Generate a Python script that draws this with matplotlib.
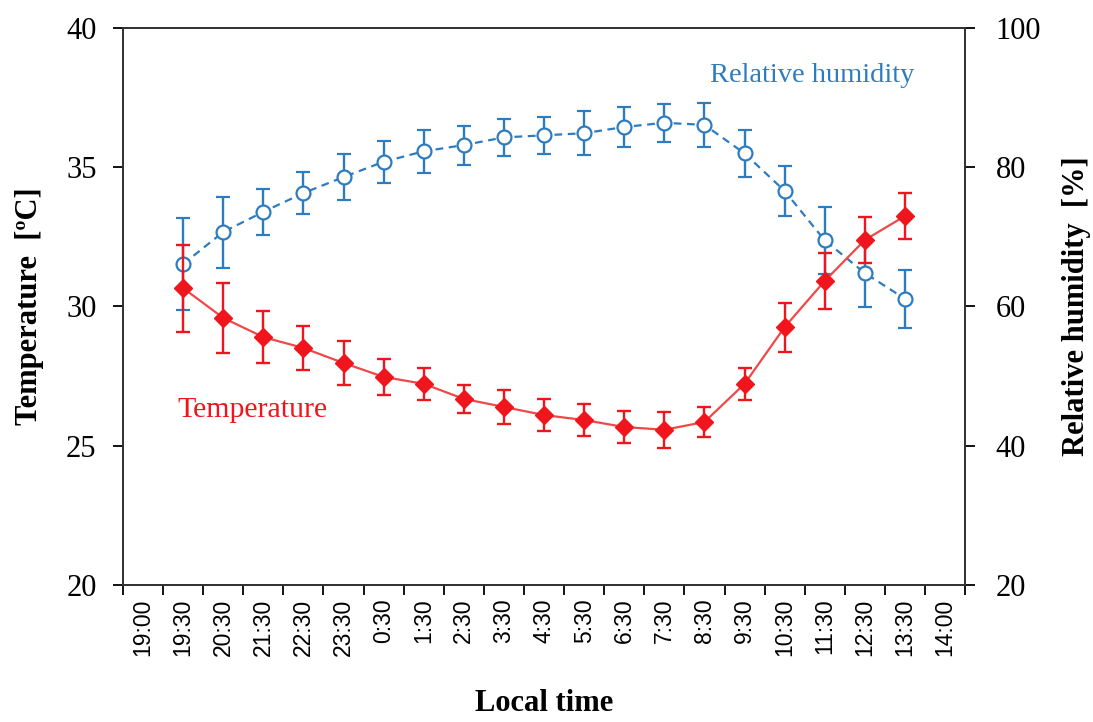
import matplotlib
matplotlib.use("Agg")
import matplotlib.pyplot as plt
import numpy as np

plt.rcParams['font.family'] = ['Liberation Serif', 'DejaVu Serif']

labels = ["19:00", "19:30", "20:30", "21:30", "22:30", "23:30", "0:30", "1:30", "2:30",
          "3:30", "4:30", "5:30", "6:30", "7:30", "8:30", "9:30", "10:30", "11:30",
          "12:30", "13:30", "14:00"]
data_labels = labels[1:-1]

temp = [30.66, 29.59, 28.90, 28.51, 27.97, 27.47, 27.22, 26.68, 26.39, 26.10,
        25.92, 25.67, 25.57, 25.85, 27.22, 29.26, 30.92, 32.39, 33.25]
temp_err = [1.56, 1.26, 0.92, 0.79, 0.80, 0.66, 0.58, 0.50, 0.62, 0.57,
            0.59, 0.59, 0.64, 0.54, 0.57, 0.88, 1.00, 0.83, 0.81]
rh = [66.1, 70.7, 73.6, 76.3, 78.6, 80.8, 82.3, 83.2, 84.3, 84.6,
      84.9, 85.8, 86.4, 86.1, 82.0, 76.6, 69.5, 64.8, 61.1]
rh_err = [6.6, 5.1, 3.3, 3.0, 3.3, 3.0, 3.1, 2.8, 2.7, 2.7,
          3.2, 2.9, 2.7, 3.2, 3.4, 3.6, 4.8, 4.9, 4.2]

red = '#f0141c'
blue = '#2e7cc0'

fig = plt.figure(figsize=(10.93, 7.22), dpi=100)
ax = fig.add_axes([0.1125, 0.190, 0.7705, 0.771])
ax2 = ax.twinx()

x_all = np.arange(len(labels))
x = np.array([labels.index(l) for l in data_labels])

ax2.errorbar(x, rh, yerr=rh_err, color=blue, ls=(0, (3.5, 2.5)), lw=1.6,
             marker='o', ms=10, mfc='white', mec=blue, mew=1.6,
             ecolor=blue, elinewidth=1.7, capsize=5, capthick=1.7, zorder=2)
ax.errorbar(x, temp, yerr=temp_err, color='#f04848', ls='-', lw=1.6,
            marker='D', ms=9.5, mfc=red, mec=red,
            ecolor=red, elinewidth=1.7, capsize=5, capthick=1.7, zorder=3)
ax.set_zorder(ax2.get_zorder() + 1)
ax.patch.set_visible(False)

ax.set_xlim(-0.5, len(labels) - 0.5)
ax.set_ylim(20, 40)
ax2.set_ylim(20, 100)
ax.set_yticks([20, 25, 30, 35, 40])
ax2.set_yticks([20, 40, 60, 80, 100])
ax.set_xticks(x_all)
ax.set_xticklabels(labels, rotation=90, fontsize=16.5, family=['Liberation Sans', 'DejaVu Sans'])
ax.set_xticks(np.arange(len(labels) + 1) - 0.5, minor=True)
ax.tick_params(axis='x', which='major', length=0, pad=10)
ax.tick_params(axis='x', which='minor', length=7, width=1.3, direction='out')
ax.tick_params(axis='y', labelsize=22, length=7, width=1.3, direction='out', pad=12)
ax2.tick_params(axis='y', labelsize=22, length=7, width=1.3, direction='out', pad=15)

for a in (ax, ax2):
    for s in a.spines.values():
        s.set_linewidth(1.3)
        s.set_color('#333333')

ax.set_ylabel('Temperature  [ºC]', fontsize=22, fontweight='bold', labelpad=16)
ax2.set_ylabel('Relative humidity  [%]', fontsize=22, fontweight='bold', labelpad=15)
ax.set_xlabel('Local time', fontsize=22, fontweight='bold', labelpad=24)

ax.text(14.14, 38.31, 'Relative humidity', color=blue, fontsize=20.5,
        ha='left', va='center')
ax.text(0.85, 26.28, 'Temperature', color=red, fontsize=21.5,
        ha='left', va='center')

fig.savefig('out.png', dpi=100)
